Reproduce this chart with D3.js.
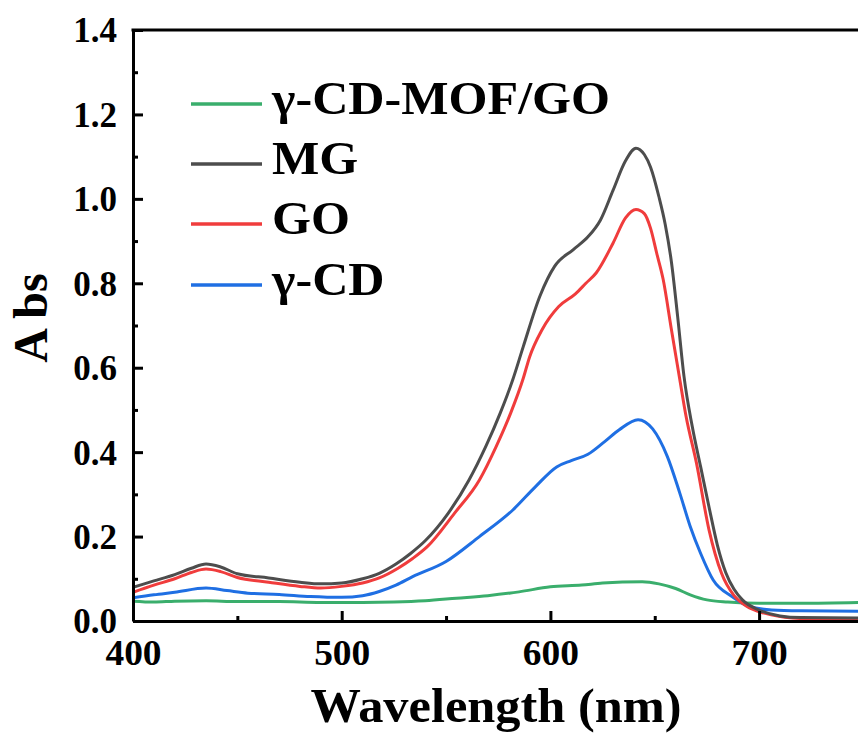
<!DOCTYPE html>
<html>
<head>
<meta charset="utf-8">
<script src="https://cdn.jsdelivr.net/npm/d3@7"></script>
<style>
  html, body { margin: 0; padding: 0; background: #fff; }
  svg { display: block; }
  text { font-family: "Liberation Serif", "Times New Roman", serif; font-weight: bold; fill: #000; }
</style>
</head>
<body>
<svg id="chart" width="858" height="733"></svg>
<script>
// ---- Data ----
const seriesNames = ["γ-CD-MOF/GO", "MG", "GO", "γ-CD"];
const seriesColors = ["#3aae6c", "#4d4d4d", "#f03c3c", "#1f6fe3"];

const mgWl = [400,410,420,428,435,442,450,465,480,490,500,510,518,526,533,540,551,561,569,576,582,587,595,602,611,618,624,630,636,641,645,648,652,655,658,661,664,668,672,676,680,684,688,692,700,710,720,750];
const mgAbs = [0.080,0.095,0.110,0.125,0.135,0.128,0.112,0.102,0.092,0.088,0.090,0.100,0.113,0.135,0.160,0.190,0.255,0.334,0.413,0.493,0.572,0.650,0.770,0.840,0.880,0.910,0.950,1.020,1.090,1.120,1.105,1.075,1.005,0.940,0.850,0.720,0.580,0.460,0.365,0.270,0.180,0.115,0.075,0.050,0.026,0.012,0.008,0.007];

const goWl = [400,410,420,428,435,442,450,465,480,490,500,510,518,527,534,541,554,566,574,581,587,590,596,604,612,617,622,630,636,641,645,648,651,654,658,662,665,670,676,682,688,694,703,716,730,750];
const goAbs = [0.068,0.085,0.100,0.115,0.123,0.117,0.103,0.092,0.082,0.078,0.082,0.090,0.102,0.125,0.148,0.176,0.255,0.334,0.413,0.493,0.575,0.625,0.690,0.745,0.775,0.800,0.825,0.895,0.955,0.975,0.965,0.930,0.870,0.810,0.690,0.572,0.485,0.374,0.216,0.113,0.060,0.035,0.018,0.007,0.004,0.004];

const cdWl = [400,410,420,435,445,455,470,485,500,510,518,526,534,550,566,582,593,603,610,618,626,633,642,649,656,662,667,672,678,687,695,706,720,750];
const cdAbs = [0.055,0.062,0.068,0.078,0.072,0.066,0.063,0.058,0.056,0.060,0.070,0.085,0.105,0.141,0.200,0.263,0.319,0.365,0.380,0.395,0.425,0.453,0.477,0.455,0.390,0.303,0.224,0.160,0.097,0.058,0.035,0.026,0.024,0.023];

const mofWl = [400,410,420,435,450,470,490,510,525,540,555,570,585,600,615,625,644,652,660,667,675,685,700,720,750];
const mofAbs = [0.047,0.045,0.047,0.048,0.046,0.046,0.044,0.044,0.045,0.048,0.054,0.060,0.069,0.081,0.085,0.090,0.093,0.088,0.077,0.062,0.050,0.045,0.042,0.042,0.044];

const xTicks = [400, 500, 600, 700];
const xMinor = [450, 550, 650, 750];
const yTicks = [0, 0.2, 0.4, 0.6, 0.8, 1.0, 1.2, 1.4];
const yMinor = [0.1, 0.3, 0.5, 0.7, 0.9, 1.1, 1.3];

const series = [
  { name: seriesNames[0], color: seriesColors[0], wl: mofWl, abs: mofAbs },
  { name: seriesNames[1], color: seriesColors[1], wl: mgWl, abs: mgAbs },
  { name: seriesNames[2], color: seriesColors[2], wl: goWl, abs: goAbs },
  { name: seriesNames[3], color: seriesColors[3], wl: cdWl, abs: cdAbs }
];

// ---- Layout ----
const svg = d3.select("#chart");
const mLeft = 133, mTop = 30, mBottom = 621;
const pxPerNm = 2.087;
const x = d3.scaleLinear().domain([400, 750]).range([mLeft, mLeft + 350 * pxPerNm]);
const y = d3.scaleLinear().domain([0, 1.4]).range([mBottom, mTop]);

svg.append("defs").append("clipPath").attr("id", "plotclip")
  .append("rect").attr("x", mLeft).attr("y", mTop).attr("width", 858 - mLeft).attr("height", mBottom - mTop);

const line = d3.line().curve(d3.curveMonotoneX).x(d => x(d[0])).y(d => y(d[1]));
const drawOrder = [0, 3, 2, 1];
const g = svg.append("g").attr("clip-path", "url(#plotclip)");
drawOrder.forEach(i => {
  const s = series[i];
  g.append("path")
    .datum(s.wl.map((w, k) => [w, s.abs[k]]))
    .attr("fill", "none")
    .attr("stroke", s.color)
    .attr("stroke-width", 3)
    .attr("stroke-linejoin", "round")
    .attr("d", line);
});

// axes
const axW = 3;
const yAxis = d3.axisLeft(y).tickValues(yTicks).tickFormat(d3.format(".1f")).tickSizeInner(-10).tickSizeOuter(0).tickPadding(16);
const gy = svg.append("g").attr("transform", `translate(${mLeft},0)`).call(yAxis);
gy.select(".domain").attr("stroke", "#000").attr("stroke-width", axW);
gy.selectAll(".tick line").attr("stroke", "#000").attr("stroke-width", axW);
gy.selectAll(".tick text").style("font-size", "35px").attr("dy", "0.34em");
const yAxisMinor = d3.axisLeft(y).tickValues(yMinor).tickFormat("").tickSizeInner(-5).tickSizeOuter(0);
const gym = svg.append("g").attr("transform", `translate(${mLeft},0)`).call(yAxisMinor);
gym.select(".domain").remove();
gym.selectAll(".tick line").attr("stroke", "#000").attr("stroke-width", axW);

const xAxis = d3.axisBottom(x).tickValues(xTicks).tickFormat(d3.format("d")).tickSizeInner(-10).tickSizeOuter(0).tickPadding(19);
const gx = svg.append("g").attr("transform", `translate(0,${mBottom})`).call(xAxis);
gx.select(".domain").attr("stroke", "#000").attr("stroke-width", axW);
gx.selectAll(".tick line").attr("stroke", "#000").attr("stroke-width", axW);
gx.selectAll(".tick text").style("font-size", "35px").attr("dy", "0.71em").attr("transform", "scale(1.07,1)");
const xAxisMinor = d3.axisBottom(x).tickValues(xMinor).tickFormat("").tickSizeInner(-5).tickSizeOuter(0);
const gxm = svg.append("g").attr("transform", `translate(0,${mBottom})`).call(xAxisMinor);
gxm.select(".domain").remove();
gxm.selectAll(".tick line").attr("stroke", "#000").attr("stroke-width", axW);

// top border
svg.append("line").attr("x1", mLeft - axW / 2).attr("x2", 858).attr("y1", mTop).attr("y2", mTop)
  .attr("stroke", "#000").attr("stroke-width", axW);

// axis titles
svg.append("text").attr("transform", "translate(496,722) scale(1.05,1)").attr("text-anchor", "middle")
  .style("font-size", "48px").text("Wavelength (nm)");
svg.append("text").attr("transform", "translate(47,318) rotate(-90)").attr("text-anchor", "middle")
  .style("font-size", "48px").text("A bs");

// legend
const legY = [104, 164, 224, 285];
series.forEach((s, i) => {
  svg.append("line").attr("x1", 191).attr("x2", 262).attr("y1", legY[i]).attr("y2", legY[i])
    .attr("stroke", s.color).attr("stroke-width", 3.5);
  svg.append("text").attr("transform", `translate(272,${legY[i] + 10}) scale(1.09,1)`)
    .style("font-size", "46px").text(s.name);
});
</script>
</body>
</html>
